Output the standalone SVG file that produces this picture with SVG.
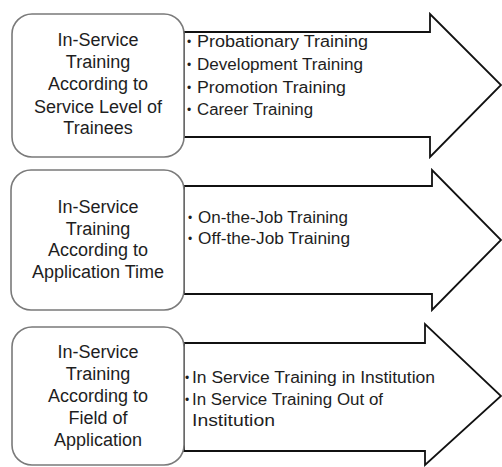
<svg xmlns="http://www.w3.org/2000/svg" width="502" height="467" viewBox="0 0 502 467">
<defs>
<style>
.arrow{fill:#fff;stroke:#111;stroke-width:1.8;stroke-linejoin:miter}
.box{fill:#fff;stroke:#7a7a7a;stroke-width:1.6}
.lbl{font-family:"Liberation Sans",Arial,sans-serif;font-size:18px;fill:#1e1e1e;text-anchor:middle}
.itm{font-family:"Liberation Sans",Arial,sans-serif;font-size:16px;fill:#1e1e1e}
.bul{font-family:"Liberation Sans",Arial,sans-serif;font-size:12px;fill:#1e1e1e}
</style>
</defs>
<g id="connectors">
<polygon class="arrow" points="184,32 430,32 430,14 501,85 430,157 430,137 184,137"/>
<polygon class="arrow" points="184,186 432,186 432,170 501,240 432,310 432,294 184,294"/>
<polygon class="arrow" points="184,343 425,343 425,324 501,396 425,465 425,451 184,451"/>
</g>
<g id="items1">
<text class="bul" x="187" y="46">•</text>
<text class="bul" x="187" y="69">•</text>
<text class="bul" x="187" y="92">•</text>
<text class="bul" x="187" y="114">•</text>
<text class="itm" x="197" y="47" textLength="171" lengthAdjust="spacingAndGlyphs">Probationary  Training</text>
<text class="itm" x="197" y="70" textLength="166" lengthAdjust="spacingAndGlyphs">Development Training</text>
<text class="itm" x="197" y="93" textLength="149" lengthAdjust="spacingAndGlyphs">Promotion Training</text>
<text class="itm" x="197" y="115" textLength="116" lengthAdjust="spacingAndGlyphs">Career Training</text>
</g>
<g id="items2">
<text class="bul" x="188" y="222">•</text>
<text class="bul" x="188" y="243">•</text>
<text class="itm" x="198" y="223" textLength="150" lengthAdjust="spacingAndGlyphs">On-the-Job Training</text>
<text class="itm" x="198" y="244" textLength="152" lengthAdjust="spacingAndGlyphs">Off-the-Job Training</text>
</g>
<g id="items3">
<text class="bul" x="185" y="382" font-size="9">•</text>
<text class="bul" x="185" y="404" font-size="9">•</text>
<text class="itm" x="192" y="383" textLength="243" lengthAdjust="spacingAndGlyphs">In Service Training in Institution</text>
<text class="itm" x="192" y="405" textLength="191" lengthAdjust="spacingAndGlyphs">In Service Training Out of</text>
<text class="itm" x="192" y="426" textLength="83" lengthAdjust="spacingAndGlyphs">Institution</text>
</g>
<g id="node1">
<rect class="box" x="12" y="14" width="172" height="143" rx="20"/>
<text class="lbl" x="98" y="46">In-Service</text>
<text class="lbl" x="98" y="67.5">Training</text>
<text class="lbl" x="98" y="90">According to</text>
<text class="lbl" x="98" y="112.5">Service Level of</text>
<text class="lbl" x="98" y="134">Trainees</text>
</g>
<g id="node2">
<rect class="box" x="11" y="170" width="173" height="140" rx="20"/>
<text class="lbl" x="98" y="213">In-Service</text>
<text class="lbl" x="98" y="234.5">Training</text>
<text class="lbl" x="98" y="256">According to</text>
<text class="lbl" x="98" y="277.5">Application Time</text>
</g>
<g id="node3">
<rect class="box" x="12" y="327" width="172" height="138" rx="20"/>
<text class="lbl" x="98" y="358">In-Service</text>
<text class="lbl" x="98" y="380">Training</text>
<text class="lbl" x="98" y="402">According to</text>
<text class="lbl" x="98" y="424">Field of</text>
<text class="lbl" x="98" y="446">Application</text>
</g>
</svg>
